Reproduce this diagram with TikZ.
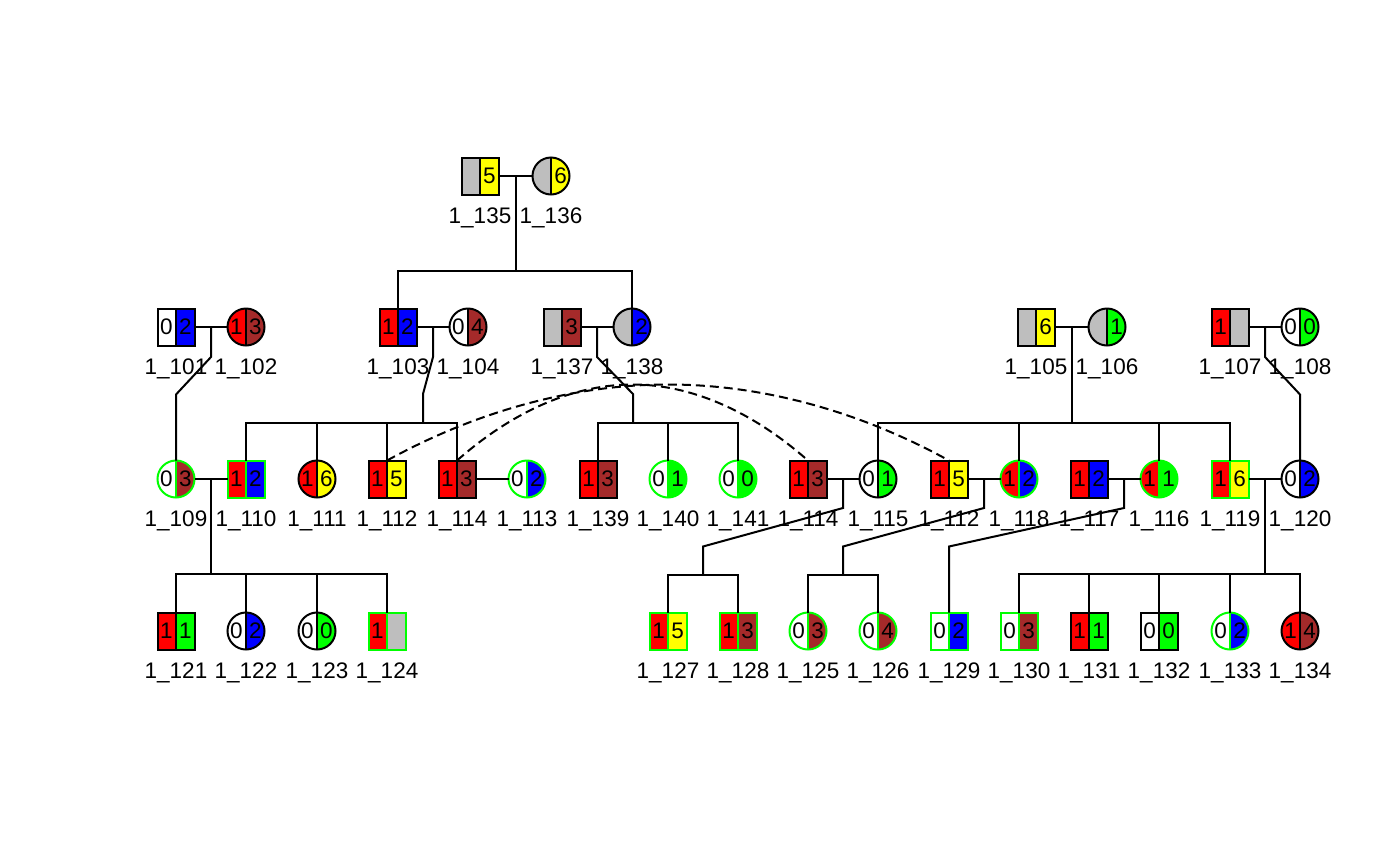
\documentclass[tikz,border=0pt]{standalone}
\usepackage{fontspec}
\setmainfont{Liberation Sans}
\usetikzlibrary{calc}
\definecolor{rred}{RGB}{255,0,0}
\definecolor{rgreen}{RGB}{0,255,0}
\definecolor{rblue}{RGB}{0,0,255}
\definecolor{ryellow}{RGB}{255,255,0}
\definecolor{rbrown}{RGB}{165,42,42}
\definecolor{rgrey}{RGB}{190,190,190}
\tikzset{
  conn/.style={line width=2pt, black},
  arcline/.style={line width=2pt, black, dash pattern=on 9pt off 5pt},
  sq/.style={rectangle, minimum width=37pt, minimum height=37pt, inner sep=0pt, outer sep=0pt},
  ci/.style={circle, minimum size=37pt, inner sep=0pt, outer sep=0pt},
  halves/.style 2 args={path picture={
      \fill[#1] (path picture bounding box.south west) rectangle (path picture bounding box.north);
      \fill[#2] (path picture bounding box.south) rectangle (path picture bounding box.north east);}},
  outline/.style={postaction={draw=#1, line width=2pt}},
  dig/.style={inner sep=0pt, font=\fontsize{22.5}{27}\selectfont},
  lab/.style={anchor=base, inner sep=0pt, font=\fontsize{22.5}{27}\selectfont},
}
% #1 name, #2 label number, #3 shape, #4 position, #5 left colour, #6 left digit,
% #7 right colour, #8 right digit, #9 border colour
\newcommand\pednode[9]{%
  \node[#3, halves={#5}{#7}, outline=#9] (#1) at #4 {};
  \draw[line width=2pt, #9] (#1.north) -- (#1.south);
  \node[dig] (#1l) at ([xshift=-9.5pt]#1.center) {#6};
  \node[dig] (#1r) at ([xshift=9.5pt]#1.center) {#8};
  \node[lab] (#1t) at ([yshift=-47pt]#1.center) {1\_#2};
}
\begin{document}
\begin{tikzpicture}[x=1pt,y=-1pt]
\fill[white] (0,0) rectangle (1400,865);
\useasboundingbox (0,0) rectangle (1400,865);
% generation 1
\pednode{p135}{135}{sq}{(480,176)}{rgrey}{}{ryellow}{5}{black}
\pednode{p136}{136}{ci}{(551,176)}{rgrey}{}{ryellow}{6}{black}
% generation 2
\pednode{p101}{101}{sq}{(176,327)}{white}{0}{rblue}{2}{black}
\pednode{p102}{102}{ci}{(246,327)}{rred}{1}{rbrown}{3}{black}
\pednode{p103}{103}{sq}{(398,327)}{rred}{1}{rblue}{2}{black}
\pednode{p104}{104}{ci}{(468,327)}{white}{0}{rbrown}{4}{black}
\pednode{p137}{137}{sq}{(562,327)}{rgrey}{}{rbrown}{3}{black}
\pednode{p138}{138}{ci}{(632,327)}{rgrey}{}{rblue}{2}{black}
\pednode{p105}{105}{sq}{(1036,327)}{rgrey}{}{ryellow}{6}{black}
\pednode{p106}{106}{ci}{(1107,327)}{rgrey}{}{rgreen}{1}{black}
\pednode{p107}{107}{sq}{(1230,327)}{rred}{1}{rgrey}{}{black}
\pednode{p108}{108}{ci}{(1300,327)}{white}{0}{rgreen}{0}{black}
% generation 3
\pednode{p109}{109}{ci}{(176,479)}{white}{0}{rbrown}{3}{rgreen}
\pednode{p110}{110}{sq}{(246,479)}{rred}{1}{rblue}{2}{rgreen}
\pednode{p111}{111}{ci}{(317,479)}{rred}{1}{ryellow}{6}{black}
\pednode{p112a}{112}{sq}{(387,479)}{rred}{1}{ryellow}{5}{black}
\pednode{p114a}{114}{sq}{(457,479)}{rred}{1}{rbrown}{3}{black}
\pednode{p113}{113}{ci}{(527,479)}{white}{0}{rblue}{2}{rgreen}
\pednode{p139}{139}{sq}{(598,479)}{rred}{1}{rbrown}{3}{black}
\pednode{p140}{140}{ci}{(668,479)}{white}{0}{rgreen}{1}{rgreen}
\pednode{p141}{141}{ci}{(738,479)}{white}{0}{rgreen}{0}{rgreen}
\pednode{p114b}{114}{sq}{(808,479)}{rred}{1}{rbrown}{3}{black}
\pednode{p115}{115}{ci}{(878,479)}{white}{0}{rgreen}{1}{black}
\pednode{p112b}{112}{sq}{(949,479)}{rred}{1}{ryellow}{5}{black}
\pednode{p118}{118}{ci}{(1019,479)}{rred}{1}{rblue}{2}{rgreen}
\pednode{p117}{117}{sq}{(1089,479)}{rred}{1}{rblue}{2}{black}
\pednode{p116}{116}{ci}{(1159,479)}{rred}{1}{rgreen}{1}{rgreen}
\pednode{p119}{119}{sq}{(1230,479)}{rred}{1}{ryellow}{6}{rgreen}
\pednode{p120}{120}{ci}{(1300,479)}{white}{0}{rblue}{2}{black}
% generation 4
\pednode{p121}{121}{sq}{(176,631)}{rred}{1}{rgreen}{1}{black}
\pednode{p122}{122}{ci}{(246,631)}{white}{0}{rblue}{2}{black}
\pednode{p123}{123}{ci}{(317,631)}{white}{0}{rgreen}{0}{black}
\pednode{p124}{124}{sq}{(387,631)}{rred}{1}{rgrey}{}{rgreen}
\pednode{p127}{127}{sq}{(668,631)}{rred}{1}{ryellow}{5}{rgreen}
\pednode{p128}{128}{sq}{(738,631)}{rred}{1}{rbrown}{3}{rgreen}
\pednode{p125}{125}{ci}{(808,631)}{white}{0}{rbrown}{3}{rgreen}
\pednode{p126}{126}{ci}{(878,631)}{white}{0}{rbrown}{4}{rgreen}
\pednode{p129}{129}{sq}{(949,631)}{white}{0}{rblue}{2}{rgreen}
\pednode{p130}{130}{sq}{(1019,631)}{white}{0}{rbrown}{3}{rgreen}
\pednode{p131}{131}{sq}{(1089,631)}{rred}{1}{rgreen}{1}{black}
\pednode{p132}{132}{sq}{(1159,631)}{white}{0}{rgreen}{0}{black}
\pednode{p133}{133}{ci}{(1230,631)}{white}{0}{rblue}{2}{rgreen}
\pednode{p134}{134}{ci}{(1300,631)}{rred}{1}{rbrown}{4}{black}

% ---- marriages ----
\draw[conn] (p135.east) -- (p136.west);
\draw[conn] (p101.east) -- (p102.west);
\draw[conn] (p103.east) -- (p104.west);
\draw[conn] (p137.east) -- (p138.west);
\draw[conn] (p105.east) -- (p106.west);
\draw[conn] (p107.east) -- (p108.west);
\draw[conn] (p109.east) -- (p110.west);
\draw[conn] (p114a.east) -- (p113.west);
\draw[conn] (p114b.east) -- (p115.west);
\draw[conn] (p112b.east) -- (p118.west);
\draw[conn] (p117.east) -- (p116.west);
\draw[conn] (p119.east) -- (p120.west);

% ---- generation 1 -> 2 ----
\coordinate (m1) at ($(p135.east)!.5!(p136.west)$);
\path (m1) ++(0,95) coordinate (b1);
\draw[conn] (m1) -- (b1);
\draw[conn] (p103.north) |- (b1) -| (p138.north);

% ---- generation 2 -> 3 ----
\coordinate (m2a) at ($(p101.east)!.5!(p102.west)$);
\draw[conn] (m2a) -- ++(0,30) -- ([yshift=66pt]p109.north) -- (p109.north);

\coordinate (m2b) at ($(p103.east)!.5!(p104.west)$);
\coordinate (b2b) at (423,423);
\draw[conn] (m2b) -- ++(0,30) -- ($(b2b)+(0,-29)$) -- (b2b);
\draw[conn] (p110.north) |- (b2b) -| (p114a.north);
\draw[conn] (p111.north) -- (p111.north |- b2b);
\draw[conn] (p112a.north) -- (p112a.north |- b2b);

\coordinate (m2c) at ($(p137.east)!.5!(p138.west)$);
\coordinate (b2c) at (633,423);
\draw[conn] (m2c) -- ++(0,30) -- ($(b2c)+(0,-29)$) -- (b2c);
\draw[conn] (p139.north) |- (b2c) -| (p141.north);
\draw[conn] (p140.north) -- (p140.north |- b2c);

\coordinate (m2d) at ($(p105.east)!.5!(p106.west)$);
\path (m2d) ++(0,96) coordinate (b2d);
\draw[conn] (m2d) -- (b2d);
\draw[conn] (p115.north) |- (b2d) -| (p119.north);
\draw[conn] (p118.north) -- (p118.north |- b2d);
\draw[conn] (p116.north) -- (p116.north |- b2d);

\coordinate (m2e) at ($(p107.east)!.5!(p108.west)$);
\draw[conn] (m2e) -- ++(0,30) -- ([yshift=66pt]p120.north) -- (p120.north);

% ---- generation 3 -> 4 ----
\coordinate (m3a) at ($(p109.east)!.5!(p110.west)$);
\path (m3a) ++(0,95) coordinate (b3a);
\draw[conn] (m3a) -- (b3a);
\draw[conn] (p121.north) |- (b3a) -| (p124.north);
\draw[conn] (p122.north) -- (p122.north |- b3a);
\draw[conn] (p123.north) -- (p123.north |- b3a);

\coordinate (m3b) at ($(p114b.east)!.5!(p115.west)$);
\coordinate (b3b) at ($(p127.north)!.5!(p128.north)+(0,-38)$);
\draw[conn] (m3b) -- ++(0,29) -- ($(b3b)+(0,-28)$) -- (b3b);
\draw[conn] (p127.north) |- (b3b) -| (p128.north);

\coordinate (m3c) at ($(p112b.east)!.5!(p118.west)$);
\coordinate (b3c) at ($(p125.north)!.5!(p126.north)+(0,-38)$);
\draw[conn] (m3c) -- ++(0,29) -- ($(b3c)+(0,-28)$) -- (b3c);
\draw[conn] (p125.north) |- (b3c) -| (p126.north);

\coordinate (m3d) at ($(p117.east)!.5!(p116.west)$);
\draw[conn] (m3d) -- ++(0,29) -- ([yshift=66pt]p129.north) -- (p129.north);

\coordinate (m3e) at ($(p119.east)!.5!(p120.west)$);
\path (m3e) ++(0,95) coordinate (b3e);
\draw[conn] (m3e) -- (b3e);
\draw[conn] (p130.north) |- (b3e) -| (p134.north);
\draw[conn] (p131.north) -- (p131.north |- b3e);
\draw[conn] (p132.north) -- (p132.north |- b3e);
\draw[conn] (p133.north) -- (p133.north |- b3e);

% ---- duplicate-individual arcs ----
\coordinate (t112) at ($(p112a.north)!.5!(p112b.north)+(0,-76)$);
\draw[arcline] (p112a.north) parabola bend (t112) (p112b.north);
\coordinate (t114) at ($(p114a.north)!.5!(p114b.north)+(0,-76)$);
\draw[arcline] (p114a.north) parabola bend (t114) (p114b.north);
\end{tikzpicture}
\end{document}
